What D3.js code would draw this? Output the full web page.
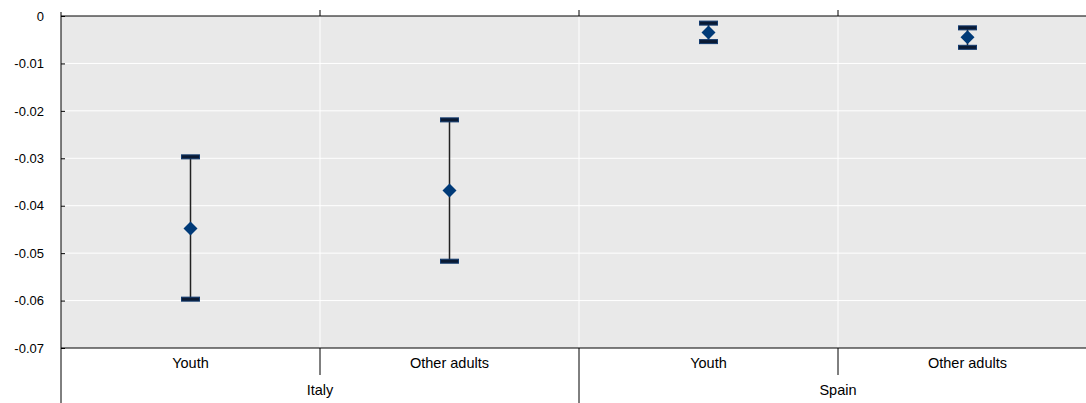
<!DOCTYPE html>
<html><head><meta charset="utf-8">
<script src="https://cdn.jsdelivr.net/npm/d3@7"></script>
<style>body{margin:0;background:#fff}text{font-family:"Liberation Sans",Arial,sans-serif;font-size:13px;fill:#000}.xl{font-size:14.5px}</style>
</head><body>
<script>
const countries = ["Italy", "Spain"];
const groups = ["Youth", "Other adults"];
const estimate = [-0.0448, -0.0368, -0.0035, -0.0045];
const lower = [-0.0597, -0.0517, -0.0054, -0.0066];
const upper = [-0.0297, -0.0219, -0.0015, -0.0025];
const yTicks = [0, -0.01, -0.02, -0.03, -0.04, -0.05, -0.06, -0.07];

const W = 1086, H = 403, L = 61, R = 1097, T = 16, B = 348;
const svg = d3.select("body").append("svg").attr("width", W).attr("height", H);
const keys = d3.range(estimate.length);
const x = d3.scaleBand().domain(keys).range([L, R]);
const y = d3.scaleLinear().domain([-0.07, 0]).range([B, T]);

svg.append("rect").attr("x", L).attr("y", T).attr("width", R - L).attr("height", B - T).attr("fill", "#e9e9e9");
svg.append("g").selectAll("line").data(yTicks.slice(1, -1)).join("line")
  .attr("x1", L).attr("x2", R).attr("y1", d => y(d)).attr("y2", d => y(d)).attr("stroke", "#fff");
svg.append("g").selectAll("line").data(keys.slice(1)).join("line")
  .attr("x1", d => x(d)).attr("x2", d => x(d)).attr("y1", T).attr("y2", B).attr("stroke", "#fff");

const yAxis = svg.append("g").attr("transform", `translate(${L},0)`)
  .call(d3.axisRight(y).tickValues(yTicks).tickSize(4));
yAxis.selectAll("text").attr("x", -17).attr("text-anchor", "end").text(d => d === 0 ? "0" : String(+d.toFixed(2)));
yAxis.select(".domain").remove();
yAxis.selectAll("line").attr("stroke", "#000");
svg.append("line").attr("x1", L).attr("x2", L).attr("y1", T - 4).attr("y2", H).attr("stroke", "#000");
svg.append("line").attr("x1", L).attr("x2", R).attr("y1", T).attr("y2", T).attr("stroke", "#000");
svg.append("line").attr("x1", L).attr("x2", R).attr("y1", B).attr("y2", B).attr("stroke", "#000");
svg.append("g").selectAll("line").data(keys.slice(1)).join("line")
  .attr("x1", d => x(d)).attr("x2", d => x(d)).attr("y1", T - 6).attr("y2", T).attr("stroke", "#000");
svg.append("g").selectAll("line").data(keys.slice(1)).join("line")
  .attr("x1", d => x(d)).attr("x2", d => x(d)).attr("y1", B)
  .attr("y2", d => d % groups.length === 0 ? H : B + 27).attr("stroke", "#000");
svg.append("g").selectAll("text").data(keys).join("text").attr("class", "xl")
  .attr("x", d => x(d) + x.bandwidth() / 2).attr("y", B + 20).attr("text-anchor", "middle")
  .text(d => groups[d % groups.length]);
svg.append("g").selectAll("text").data(countries).join("text").attr("class", "xl")
  .attr("x", (d, i) => (x(i * 2) + x(i * 2 + 1) + x.bandwidth()) / 2).attr("y", B + 47).attr("text-anchor", "middle")
  .text(d => d);

const g = svg.append("g").selectAll("g").data(keys).join("g")
  .attr("transform", d => `translate(${x(d) + x.bandwidth() / 2},0)`);
g.append("line").attr("y1", d => y(lower[d])).attr("y2", d => y(upper[d])).attr("stroke", "#222").attr("stroke-width", 1.5);
[lower, upper].forEach(arr => {
  g.append("rect").attr("x", -9).attr("width", 18).attr("height", 4).attr("y", d => y(arr[d]) - 2)
    .attr("fill", "#0a1a33").attr("stroke", "#123a6e").attr("stroke-width", 1);
});
g.append("path").attr("d", "M0,-7L7,0L0,7L-7,0Z").attr("transform", d => `translate(0,${y(estimate[d])})`).attr("fill", "#003a78");
</script>
</body></html>
